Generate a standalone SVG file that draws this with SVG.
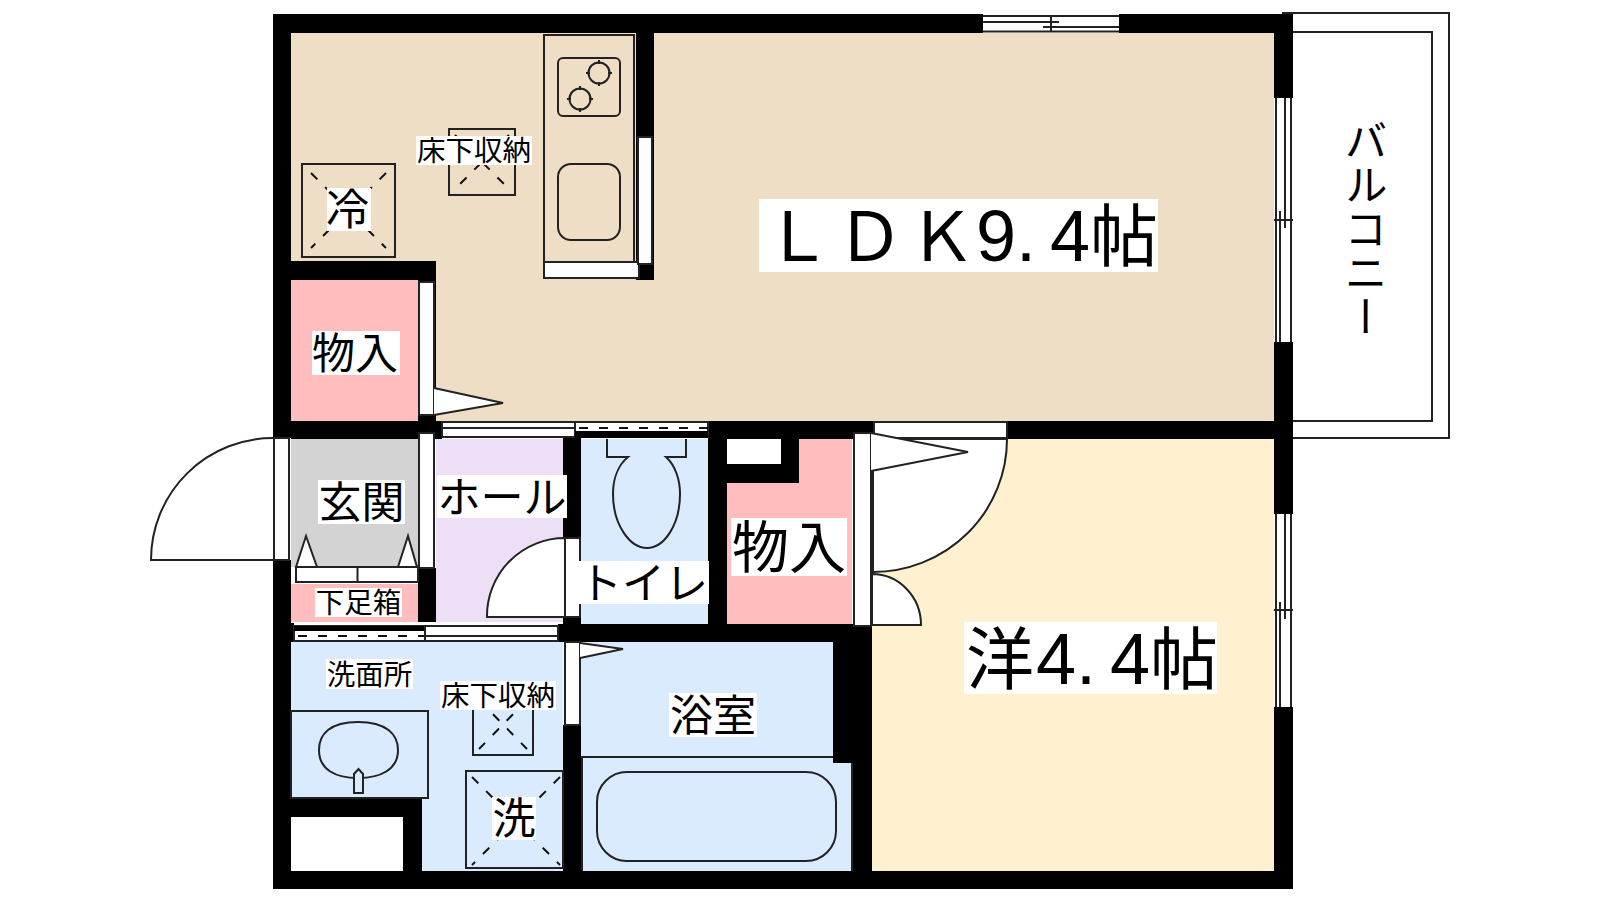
<svg xmlns="http://www.w3.org/2000/svg" width="1600" height="900" viewBox="0 0 1600 900">
<style>
.w{fill:#000}
.l{fill:#fff;stroke:none}
.o{fill:none;stroke:#222;stroke-width:2}
.f{fill:#fff;stroke:#222;stroke-width:2}
.d{fill:none;stroke:#111;stroke-width:2;stroke-dasharray:9 11}
.t{font-family:"Noto Sans CJK JP","Noto Sans",sans-serif;fill:#000;text-anchor:middle}
.s{text-anchor:start}
.n{font-family:"Liberation Sans",sans-serif;font-size:72px}
</style>
<rect width="1600" height="900" fill="#fff"/>
<g id="balcony">
<rect x="1283" y="13" width="166" height="425" class="f"/>
<path d="M1293 32H1432V421H1293" class="o"/>
</g>
<g id="floors">
<rect x="291" y="33" width="983" height="388" fill="#EFDEC6"/>
<rect x="872" y="439" width="402" height="432" fill="#FFF1D0"/>
<rect x="291" y="280" width="127" height="141" fill="#FFBDBD"/>
<rect x="291" y="439" width="127" height="128" fill="#D3D3D3"/>
<rect x="291" y="584" width="127" height="38" fill="#FFBDBD"/>
<rect x="436" y="439" width="127" height="183" fill="#EDDFF5"/>
<rect x="581" y="439" width="127" height="185" fill="#DAEBFF"/>
<rect x="727" y="439" width="125" height="185" fill="#FFBDBD"/>
<rect x="727" y="439" width="54" height="25" fill="#fff"/>
<rect x="291" y="642" width="272" height="229" fill="#DAEBFF"/>
<rect x="581" y="642" width="272" height="229" fill="#DAEBFF"/>
<rect x="291" y="817" width="112" height="54" fill="#fff"/>
</g>
<g id="bath">
<path d="M582 871V757H833M852 763V871" class="o"/>
<rect x="597" y="772" width="239" height="89" rx="30" class="o"/>
</g>
<g id="walls">
<rect x="273" y="14" width="710" height="19" class="w"/>
<rect x="1119" y="14" width="174" height="19" class="w"/>
<rect x="273" y="14" width="18" height="424" class="w"/>
<rect x="273" y="560" width="18" height="329" class="w"/>
<rect x="273" y="871" width="1020" height="18" class="w"/>
<rect x="1274" y="14" width="19" height="84" class="w"/>
<rect x="1274" y="342" width="19" height="172" class="w"/>
<rect x="1274" y="707" width="19" height="182" class="w"/>
<rect x="636" y="33" width="18" height="247" class="w"/>
<rect x="291" y="261" width="145" height="19" class="w"/>
<rect x="418" y="280" width="18" height="153" class="w"/>
<rect x="273" y="421" width="169" height="18" class="w"/>
<rect x="708" y="421" width="166" height="18" class="w"/>
<rect x="1007" y="421" width="286" height="18" class="w"/>
<rect x="418" y="568" width="18" height="54" class="w"/>
<rect x="563" y="437" width="18" height="103" class="w"/>
<rect x="563" y="617" width="18" height="25" class="w"/>
<rect x="558" y="624" width="314" height="18" class="w"/>
<rect x="273" y="623" width="21" height="19" class="w"/>
<rect x="708" y="421" width="19" height="203" class="w"/>
<rect x="727" y="464" width="72" height="19" class="w"/>
<rect x="781" y="439" width="18" height="44" class="w"/>
<rect x="563" y="725" width="18" height="146" class="w"/>
<rect x="833" y="642" width="39" height="121" class="w"/>
<rect x="853" y="763" width="19" height="108" class="w"/>
<rect x="291" y="798" width="131" height="19" class="w"/>
<rect x="403" y="798" width="19" height="73" class="w"/>
</g>
<g id="windows">
<rect x="983" y="14" width="136" height="19" fill="#fff"/>
<path d="M983 16H1119M983 31.500H1119M983 22H1059M1043 27H1119M1051 16V31.500" class="o"/>
<rect x="1274" y="98" width="19" height="244" fill="#fff"/>
<path d="M1276 98V342M1291 98V342M1285 98V228M1280 211V342M1274 220H1293" class="o"/>
<rect x="1274" y="514" width="19" height="193" fill="#fff"/>
<path d="M1276 514V707M1291 514V707M1285 514V619M1280 602V707M1274 610H1293" class="o"/>
</g>
<g id="doors">
<path d="M274 438A122 122 0 0 0 151 560H274Z" class="f"/>
<rect x="274" y="438" width="17" height="122" fill="#fff"/>
<rect x="274" y="438" width="15" height="122" class="f"/>
<rect x="419" y="282" width="15" height="133" class="f"/>
<path d="M434 388L503 403L434 415" class="f"/>
<rect x="419" y="433" width="15" height="135" class="f"/>
<path d="M565 538A78 78 0 0 0 487 617H565Z" class="f"/>
<rect x="565" y="538" width="15" height="79" class="f"/>
<rect x="565" y="642" width="15" height="83" class="f"/>
<path d="M580 643L623 649L580 658" class="f"/>
<path d="M873 439H1007A134 133 0 0 1 873 572Z" class="f"/>
<rect x="874" y="422" width="133" height="16" class="f"/>
<path d="M872 574A49 51 0 0 1 921 625H872Z" class="f"/>
<rect x="854" y="433" width="17" height="193" class="f"/>
<path d="M871 433L968 452L871 471" class="f"/>
<rect x="442" y="422" width="133" height="15" class="f"/>
<path d="M442 428H575" class="o"/>
<rect x="575" y="422" width="133" height="15" class="f"/>
<rect x="575" y="431" width="133" height="7" class="w"/>
<path d="M579 428H708" class="d"/>
<rect x="294" y="626" width="131" height="15" class="f"/>
<rect x="294" y="626" width="131" height="5" class="w"/>
<path d="M298 636H425" class="d"/>
<rect x="425" y="626" width="133" height="15" class="f"/>
<path d="M425 636H558" class="o"/>
</g>
<g id="kitchen">
<path d="M544 262V35H634V262" class="o"/>
<rect x="544" y="262" width="95" height="16" class="f"/>
<rect x="638" y="137" width="14" height="127" class="f"/>
<rect x="558" y="58" width="62" height="58" rx="5" class="o"/>
<circle cx="599" cy="73" r="10.500" class="o"/>
<path d="M599 60V86M586 73H612" fill="none" stroke="#222" stroke-width="2" stroke-dasharray="4 18"/>
<circle cx="580" cy="99" r="10.500" class="o"/>
<path d="M580 86V112M567 99H593" fill="none" stroke="#222" stroke-width="2" stroke-dasharray="4 18"/>
<rect x="558" y="164" width="62" height="76" rx="13" class="o"/>
</g>
<g id="shoebox">
<path d="M296 567L306 536L317 567ZM398 567L408 536L417 567Z" class="f"/>
<rect x="296" y="567" width="122" height="15" class="f"/>
<path d="M357.500 567V582" class="o"/>
</g>
<g id="toilet">
<path d="M607 439V457H628C617 466 613 481 613 494C613 525 630 548 647 548C664 548 680 525 680 494C680 481 676 466 666 457H686V439" class="o"/>
</g>
<g id="vanity">
<rect x="291" y="711" width="137" height="87" class="o"/>
<path d="M358 722C386 722 398 734 398 750C398 770 380 778 358 778C336 778 319 770 319 750C319 734 330 722 358 722Z" class="o"/>
<path d="M354 793V774L358.500 769L363 774V793Z" fill="#DAEBFF" stroke="#222" stroke-width="2"/>
</g>
<g id="appliances">
<rect x="302" y="164" width="93" height="93" class="o"/>
<path d="M311 173L386 248M386 173L311 248" class="d"/>
<rect x="449" y="129" width="66" height="66" class="o"/>
<path d="M455 135L509 189M509 135L455 189" class="d"/>
<rect x="473" y="694" width="60" height="61" class="o"/>
<path d="M479 700L527 749M527 700L479 749" class="d"/>
<rect x="466" y="771" width="97" height="97" class="o"/>
<path d="M472 777L560 865M560 777L472 865" class="d"/>
</g>
<g id="labels">
<g id="label-ldk"><rect x="759" y="199" width="399" height="73" class="l"/><text class="t s" y="261" font-size="68"><tspan x="764">Ｌ</tspan><tspan x="836">Ｄ</tspan><tspan x="908">Ｋ</tspan><tspan class="n" x="976">9.</tspan><tspan class="n" x="1050">4</tspan><tspan x="1090">帖</tspan></text></g>
<g id="label-yo"><rect x="964" y="622" width="253" height="72" class="l"/><text class="t s" y="684" font-size="68"><tspan x="966">洋</tspan><tspan class="n" x="1036">4.</tspan><tspan class="n" x="1110">4</tspan><tspan x="1150">帖</tspan></text></g>
<g id="label-storage1"><rect x="312" y="331" width="88" height="44" class="l"/><text class="t" x="355" y="369" font-size="43">物入</text></g>
<g id="label-storage2"><rect x="731" y="518" width="116" height="58" class="l"/><text class="t" x="789" y="568" font-size="57">物入</text></g>
<g id="label-genkan"><rect x="318" y="480" width="87" height="44" class="l"/><text class="t" x="361.500" y="518" font-size="43">玄関</text></g>
<g id="label-hall"><rect x="437" y="475" width="130" height="43" class="l"/><text class="t" x="502" y="513" font-size="43">ホール</text></g>
<g id="label-toilet"><rect x="578" y="561" width="131" height="43" class="l"/><text class="t" x="643.500" y="599" font-size="43">トイレ</text></g>
<g id="label-shoes"><rect x="315" y="588" width="87" height="29" class="l"/><text class="t" x="358.500" y="613" font-size="28.500">下足箱</text></g>
<g id="label-senmen"><rect x="326" y="659" width="87" height="30" class="l"/><text class="t" x="369.500" y="685" font-size="28.500">洗面所</text></g>
<g id="label-underfloor2"><rect x="440" y="681" width="116" height="29" class="l"/><text class="t" x="498" y="706" font-size="28.500">床下収納</text></g>
<g id="label-underfloor1"><rect x="416" y="136" width="116" height="29" class="l"/><text class="t" x="474" y="161" font-size="28.500">床下収納</text></g>
<g id="label-bath"><rect x="669" y="693" width="88" height="44" class="l"/><text class="t" x="713" y="731" font-size="43">浴室</text></g>
<g id="label-fridge"><rect x="327" y="188" width="44" height="43" class="l"/><text class="t" x="347.500" y="225" font-size="43">冷</text></g>
<g id="label-wash"><rect x="492" y="797" width="44" height="43" class="l"/><text class="t" x="514" y="834" font-size="43">洗</text></g>
<g id="label-balcony"><text class="t" x="1366" y="229" font-size="43" letter-spacing="1" style="writing-mode:vertical-rl">バルコニー</text></g>
</g>
</svg>
